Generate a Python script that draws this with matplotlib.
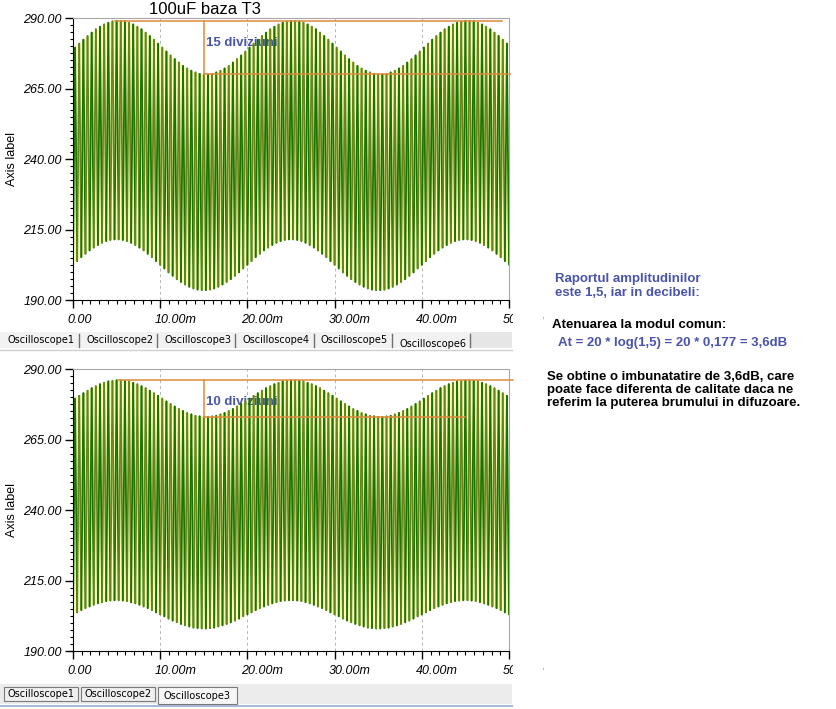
import numpy as np
import matplotlib
matplotlib.use('Agg')
import matplotlib.pyplot as plt
import matplotlib.transforms as mtransforms
from matplotlib.collections import LineCollection
from matplotlib.patches import Rectangle
from matplotlib.ticker import MultipleLocator, FormatStrFormatter

plt.rcParams['font.family'] = ['Liberation Sans', 'DejaVu Sans']

# per-cycle peak / trough values (105 cycles in 50 ms)
top_peaks = [
    279.5, 280.9, 282.3, 283.6, 284.8, 286.0, 286.9, 287.7, 288.3, 288.8, 289.0, 289.0, 288.8, 288.3,
    287.7, 286.9, 286.0, 284.8, 283.6, 282.3, 280.9, 279.5, 278.1, 276.7, 275.4, 274.2, 273.0, 272.1,
    271.3, 270.7, 270.2, 270.0, 270.0, 270.2, 270.7, 271.3, 272.1, 273.0, 274.2, 275.4, 276.7, 278.1,
    279.5, 280.9, 282.3, 283.6, 284.8, 286.0, 286.9, 287.7, 288.3, 288.8, 289.0, 289.0, 288.8, 288.3,
    287.7, 286.9, 286.0, 284.8, 283.6, 282.3, 280.9, 279.5, 278.1, 276.7, 275.4, 274.2, 273.0, 272.1,
    271.3, 270.7, 270.2, 270.0, 270.0, 270.2, 270.7, 271.3, 272.1, 273.0, 274.2, 275.4, 276.7, 278.1,
    279.5, 280.9, 282.3, 283.6, 284.8, 286.0, 286.9, 287.7, 288.3, 288.8, 289.0, 289.0, 288.8, 288.3,
    287.7, 286.9, 286.0, 284.8, 283.6, 282.3, 280.9,
]
top_troughs = [
    202.5, 203.8, 205.2, 206.4, 207.6, 208.6, 209.5, 210.3, 210.9, 211.3, 211.5, 211.5, 211.3, 210.9,
    210.3, 209.5, 208.6, 207.6, 206.4, 205.2, 203.8, 202.5, 201.2, 199.8, 198.6, 197.4, 196.4, 195.5,
    194.7, 194.1, 193.7, 193.5, 193.5, 193.7, 194.1, 194.7, 195.5, 196.4, 197.4, 198.6, 199.8, 201.2,
    202.5, 203.8, 205.2, 206.4, 207.6, 208.6, 209.5, 210.3, 210.9, 211.3, 211.5, 211.5, 211.3, 210.9,
    210.3, 209.5, 208.6, 207.6, 206.4, 205.2, 203.8, 202.5, 201.2, 199.8, 198.6, 197.4, 196.4, 195.5,
    194.7, 194.1, 193.7, 193.5, 193.5, 193.7, 194.1, 194.7, 195.5, 196.4, 197.4, 198.6, 199.8, 201.2,
    202.5, 203.8, 205.2, 206.4, 207.6, 208.6, 209.5, 210.3, 210.9, 211.3, 211.5, 211.5, 211.3, 210.9,
    210.3, 209.5, 208.6, 207.6, 206.4, 205.2, 203.8, 202.5,
]
bottom_peaks = [
    279.5, 280.5, 281.4, 282.3, 283.2, 283.9, 284.6, 285.1, 285.6, 285.8, 286.0, 286.0, 285.8, 285.6,
    285.1, 284.6, 283.9, 283.2, 282.3, 281.4, 280.5, 279.5, 278.5, 277.6, 276.7, 275.8, 275.1, 274.4,
    273.9, 273.4, 273.2, 273.0, 273.0, 273.2, 273.4, 273.9, 274.4, 275.1, 275.8, 276.7, 277.6, 278.5,
    279.5, 280.5, 281.4, 282.3, 283.2, 283.9, 284.6, 285.1, 285.6, 285.8, 286.0, 286.0, 285.8, 285.6,
    285.1, 284.6, 283.9, 283.2, 282.3, 281.4, 280.5, 279.5, 278.5, 277.6, 276.7, 275.8, 275.1, 274.4,
    273.9, 273.4, 273.2, 273.0, 273.0, 273.2, 273.4, 273.9, 274.4, 275.1, 275.8, 276.7, 277.6, 278.5,
    279.5, 280.5, 281.4, 282.3, 283.2, 283.9, 284.6, 285.1, 285.6, 285.8, 286.0, 286.0, 285.8, 285.6,
    285.1, 284.6, 283.9, 283.2, 282.3, 281.4, 280.5,
]
bottom_troughs = [
    203.0, 203.7, 204.5, 205.2, 205.8, 206.4, 206.9, 207.3, 207.7, 207.9, 208.0, 208.0, 207.9, 207.7,
    207.3, 206.9, 206.4, 205.8, 205.2, 204.5, 203.7, 203.0, 202.3, 201.5, 200.8, 200.2, 199.6, 199.1,
    198.7, 198.3, 198.1, 198.0, 198.0, 198.1, 198.3, 198.7, 199.1, 199.6, 200.2, 200.8, 201.5, 202.3,
    203.0, 203.7, 204.5, 205.2, 205.8, 206.4, 206.9, 207.3, 207.7, 207.9, 208.0, 208.0, 207.9, 207.7,
    207.3, 206.9, 206.4, 205.8, 205.2, 204.5, 203.7, 203.0, 202.3, 201.5, 200.8, 200.2, 199.6, 199.1,
    198.7, 198.3, 198.1, 198.0, 198.0, 198.1, 198.3, 198.7, 199.1, 199.6, 200.2, 200.8, 201.5, 202.3,
    203.0, 203.7, 204.5, 205.2, 205.8, 206.4, 206.9, 207.3, 207.7, 207.9, 208.0, 208.0, 207.9, 207.7,
    207.3, 206.9, 206.4, 205.8, 205.2, 204.5, 203.7, 203.0,
]
t_start, t_end = 0.0, 50.0  # ms

# envelope levels marked in orange (top, bottom of the ripple)
top_marks = [289, 270]
bottom_marks = [286, 273]
mark_labels = ['15 diviziuni', '10 diviziuni']

xtick_vals = [0, 10, 20, 30, 40, 50]
xtick_labels = ['0.00', '10.00m', '20.00m', '30.00m', '40.00m', '50.00m']
ytick_vals = [190, 215, 240, 265, 290]

tabs_top = ['Oscilloscope1', 'Oscilloscope2', 'Oscilloscope3',
            'Oscilloscope4', 'Oscilloscope5', 'Oscilloscope6']
tabs_bottom = ['Oscilloscope1', 'Oscilloscope2', 'Oscilloscope3']

W, H = 836, 709
DARK = '#1a7400'
OLIVE = '#678619'
ORANGE = '#dc8a3c'
BLUE = '#4a54a8'


def fx(x):
    return x / W


def fy(y):
    return 1 - y / H


def draw_panel(ax, peaks, troughs, marks, label, mark_x0, mark_x1, step_x1):
    v = np.empty(len(peaks) + len(troughs))
    v[0::2] = troughs
    v[1::2] = peaks
    t = np.linspace(t_start, t_end, len(v))
    # pale fill between the peaks and the troughs
    ax.fill(np.r_[t[1::2], t[0::2][::-1]], np.r_[v[1::2], v[0::2][::-1]],
            color='#ffffc2', lw=0, zorder=1)
    pts = np.column_stack([t, v])
    segs = np.stack([pts[:-1], pts[1:]], axis=1)
    cols = [DARK if (i // 2) % 2 == 0 else OLIVE for i in range(len(segs))]
    ax.add_collection(LineCollection(segs, colors=cols, linewidths=1.3,
                                     capstyle='round', zorder=2))

    hi, lo = marks
    ax.plot([mark_x0, mark_x1], [hi, hi], color=ORANGE, lw=1.1, zorder=3, clip_on=False)
    ax.plot([15, step_x1], [lo, lo], color=ORANGE, lw=1.1, zorder=3, clip_on=False)
    ax.plot([15, 15], [lo, hi], color=ORANGE, lw=1.1, zorder=3)
    ax.text(15.2, hi - 7.8, label, color=BLUE, fontsize=9.5, fontweight='bold',
            va='center', ha='left', zorder=1.5)

    ax.set_xlim(t_start, t_end)
    ax.set_ylim(190, 290)
    ax.set_yticks(ytick_vals)
    ax.yaxis.set_major_formatter(FormatStrFormatter('%.2f'))
    ax.yaxis.set_minor_locator(MultipleLocator(2.5))
    ax.set_xticks(xtick_vals)
    ax.set_xticklabels(xtick_labels)
    ax.xaxis.set_minor_locator(MultipleLocator(1))
    ax.tick_params(axis='y', which='major', length=5.8, width=1, pad=2.2, labelsize=9)
    ax.tick_params(axis='y', which='minor', length=2.4, width=0.8)
    ax.tick_params(axis='x', which='major', length=5.8, width=1, pad=4.5, labelsize=9)
    ax.tick_params(axis='x', which='minor', length=2.9, width=0.8)
    off = mtransforms.ScaledTranslation(-0.06, 0, ax.figure.dpi_scale_trans)
    for lab in ax.get_xticklabels():
        lab.set_fontstyle('italic')
        lab.set_ha('left')
        lab.set_transform(lab.get_transform() + off)
    for lab in ax.get_yticklabels():
        lab.set_fontstyle('italic')

    ax.grid(True, which='major', color='#b5b5b5', ls=(0, (3, 3)), lw=0.7)
    ax.set_axisbelow(True)
    for s in ['top', 'right']:
        ax.spines[s].set_color('#a8a8a8')
    for s in ['left', 'bottom']:
        ax.spines[s].set_color('black')


fig = plt.figure(figsize=(W / 100, H / 100), dpi=100)
fig.patch.set_facecolor('white')

ax1 = fig.add_axes([fx(73), fy(300), (509 - 73) / W, 282 / H])
ax2 = fig.add_axes([fx(73), fy(651), (509 - 73) / W, 282 / H])
draw_panel(ax1, top_peaks, top_troughs, top_marks, mark_labels[0], 4.8, 49.2, 50.1)
draw_panel(ax2, bottom_peaks, bottom_troughs, bottom_marks, mark_labels[1], 5.2, 50.5, 45.0)

fig.text(fx(205), fy(10), '100uF baza T3', fontsize=12, ha='center', va='center')
for yc in [159, 510]:
    fig.text(fx(12), fy(yc), 'Axis label', fontsize=9, rotation=90,
             ha='center', va='center')

# hide the clipped end of the "50.00m" labels
for y0 in [305, 658]:
    fig.patches.append(Rectangle((fx(513), fy(y0 + 27)), 30 / W, 27 / H,
                                 transform=fig.transFigure, facecolor='white',
                                 edgecolor='none', zorder=10))

# tab strip under the upper screen
fig.patches.append(Rectangle((0, fy(348)), fx(470), 16 / H, transform=fig.transFigure,
                             facecolor='#f2f2f2', edgecolor='none', zorder=5))
fig.patches.append(Rectangle((fx(470), fy(348)), 42 / W, 16 / H, transform=fig.transFigure,
                             facecolor='#e6e6e6', edgecolor='none', zorder=5))
for i, name in enumerate(tabs_top):
    x0 = 8 + i * 78.2
    yc = 344 if i == len(tabs_top) - 1 else 340
    fig.text(fx(x0), fy(yc), name, fontsize=7, family='DejaVu Sans',
             ha='left', va='center', zorder=6)
    fig.lines.append(plt.Line2D([fx(x0 + 71), fx(x0 + 71)], [fy(334), fy(347)],
                                transform=fig.transFigure, color='#707070',
                                lw=1, zorder=6))
fig.lines.append(plt.Line2D([0, fx(512)], [fy(350), fy(350)], transform=fig.transFigure,
                            color='#d0d0d0', lw=1, zorder=6))

# tab strip under the lower screen
fig.patches.append(Rectangle((0, fy(704)), fx(512), 20 / H, transform=fig.transFigure,
                             facecolor='#ececec', edgecolor='none', zorder=5))
for i, name in enumerate(tabs_bottom):
    x0 = 4 + i * 77
    sel = i == len(tabs_bottom) - 1
    w = 79 if sel else 74
    h = 17 if sel else 14
    fig.patches.append(Rectangle((fx(x0), fy(687 + h)), w / W, h / H,
                                 transform=fig.transFigure,
                                 facecolor='#f7f7f7' if sel else '#f0f0f0',
                                 edgecolor='#7a7a7a', lw=0.8, zorder=6))
    fig.text(fx(x0 + w / 2), fy(694 + (2 if sel else 0)), name, fontsize=7,
             family='DejaVu Sans', ha='center', va='center', zorder=7)
fig.lines.append(plt.Line2D([0, fx(512)], [fy(705.5), fy(705.5)], transform=fig.transFigure,
                            color='#a9bad6', lw=1.5, zorder=6))

# notes on the right
fig.text(fx(555), fy(286), 'Raportul amplitudinilor\neste 1,5, iar in decibeli:',
         color=BLUE, fontsize=9.5, fontweight='bold', ha='left', va='center',
         linespacing=1.15)
fig.text(fx(552), fy(325), 'Atenuarea la modul comun:', color='black',
         fontsize=9.5, fontweight='bold', ha='left', va='center')
fig.text(fx(558), fy(343), 'At = 20 * log(1,5) = 20 * 0,177 = 3,6dB', color=BLUE,
         fontsize=9.5, fontweight='bold', ha='left', va='center')
fig.text(fx(547), fy(390),
         'Se obtine o imbunatatire de 3,6dB, care\n'
         'poate face diferenta de calitate daca ne\n'
         'referim la puterea brumului in difuzoare.',
         color='black', fontsize=9.5, fontweight='bold', ha='left', va='center',
         linespacing=1.15)

fig.savefig('out.png', dpi=100)
